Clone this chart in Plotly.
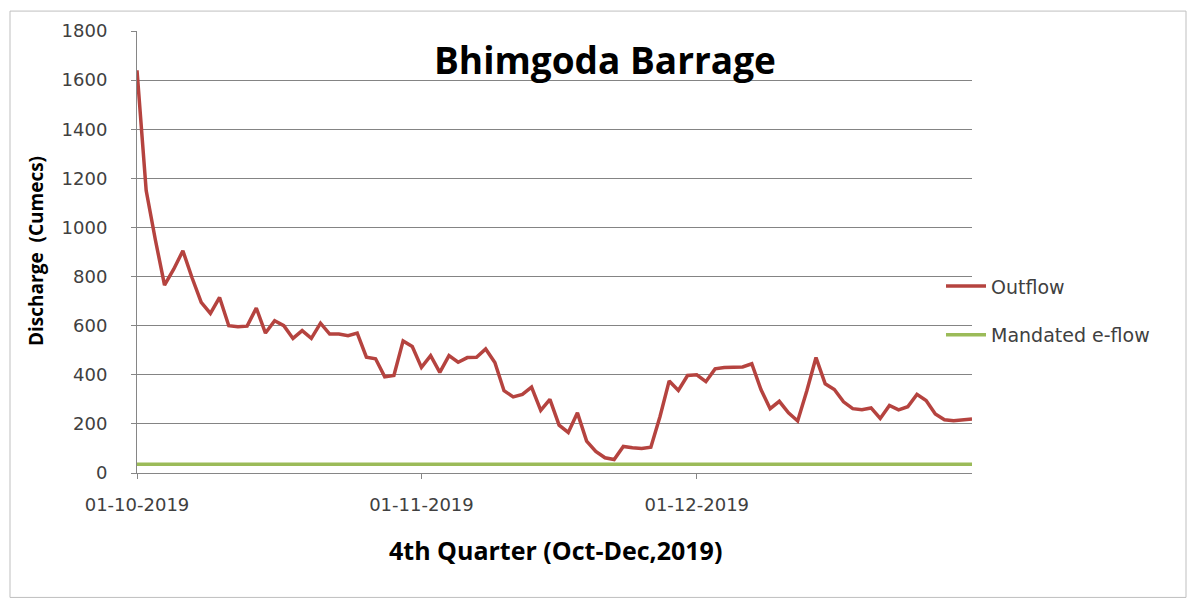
import pandas as pd
import plotly.graph_objects as go

# ---- data ----
dates = pd.date_range("2019-10-01", "2019-12-31", freq="D")
outflow = [
    1640, 1150, 950, 765, 830, 905, 795, 695, 650, 715,
    600, 596, 598, 672, 570, 620, 600, 548, 580, 548,
    610, 566, 566, 559, 570, 472, 465, 392, 397, 538,
    515, 430, 478, 410, 478, 451, 470, 471, 505, 450,
    335, 310, 320, 350, 255, 300, 195, 165, 245, 130,
    88, 62, 55, 108, 103, 100, 105, 230, 375, 336,
    397, 400, 372, 424, 430, 430, 432, 445, 340, 262,
    292, 245, 212, 335, 470, 363, 340, 290, 262, 258,
    265, 222, 275, 257, 270, 320, 295, 240, 217, 213,
    216, 220,
]
eflow = [36] * len(dates)
tick_dates = ["2019-10-01", "2019-11-01", "2019-12-01"]
tick_labels = ["01-10-2019", "01-11-2019", "01-12-2019"]
y_ticks = list(range(0, 1801, 200))

# ---- layout geometry (reference pixels; page body adds an 8px offset) ----
OFF = 8
W, H = 1195 - OFF, 608 - OFF
L, R, T, B = 137, 972, 29, 473

def px(x):
    return (x - L) / (R - L)

def py(y):
    return (B - y) / (B - T)

TICKFONT = "DejaVu Sans"

fig = go.Figure()
fig.add_trace(go.Scatter(
    x=dates, y=outflow, mode="lines", name="Outflow",
    line=dict(color="#B5433F", width=3.5), legendgroup="a"))
fig.add_trace(go.Scatter(
    x=dates, y=eflow, mode="lines", name="Mandated e-flow",
    line=dict(color="#9BBB59", width=3.5), legendgroup="b"))

fig.update_layout(
    width=W, height=H,
    margin=dict(l=L - OFF, r=1195 - R, t=T - OFF, b=608 - B),
    paper_bgcolor="white", plot_bgcolor="white",
    font=dict(family=TICKFONT, color="#404040"),
    showlegend=True,
    legend=dict(x=px(941), y=py(310), xanchor="left", yanchor="middle",
                font=dict(size=19, color="#404040", family=TICKFONT),
                tracegroupgap=21, itemwidth=40,
                bgcolor="rgba(0,0,0,0)"),
    xaxis=dict(
        type="date",
        range=[dates[0], dates[-1]],
        tickvals=tick_dates, ticktext=tick_labels,
        ticks="outside", ticklen=5, tickcolor="#868686",
        showline=True, linecolor="#868686", linewidth=1,
        showgrid=False, zeroline=False,
        tickfont=dict(size=18, color="#404040", family=TICKFONT),
        ticklabelstandoff=10,
    ),
    yaxis=dict(
        range=[0, 1800], tickvals=y_ticks,
        ticks="outside", ticklen=5, tickcolor="#868686",
        showline=True, linecolor="#868686", linewidth=1,
        showgrid=True, gridcolor="#848484", gridwidth=1,
        zeroline=False,
        tickfont=dict(size=18, color="#404040", family=TICKFONT),
        ticklabelstandoff=20,
    ),
    shapes=[dict(type="rect", xref="paper", yref="paper",
                 x0=px(10), x1=px(1186), y0=py(598), y1=py(9),
                 line=dict(color="#BFBFBF", width=1), layer="below")],
    annotations=[
        dict(text="<b>Bhimgoda Barrage</b>", x=px(605), y=py(58), xref="paper", yref="paper",
             showarrow=False, font=dict(size=37, color="#000000", family="Open Sans"),
             xanchor="center", yanchor="middle"),
        dict(text="<b>4th Quarter (Oct-Dec,2019)</b>", x=px(555), y=py(550),
             xref="paper", yref="paper", showarrow=False,
             font=dict(size=25, color="#000000", family="Open Sans"),
             xanchor="center", yanchor="middle"),
        dict(text="<b>Discharge  (Cumecs)</b>", x=px(36), y=py(250),
             xref="paper", yref="paper", showarrow=False, textangle=-90,
             font=dict(size=19, color="#000000", family="Open Sans"),
             xanchor="center", yanchor="middle"),
    ],
)

fig.write_html("out.html")
